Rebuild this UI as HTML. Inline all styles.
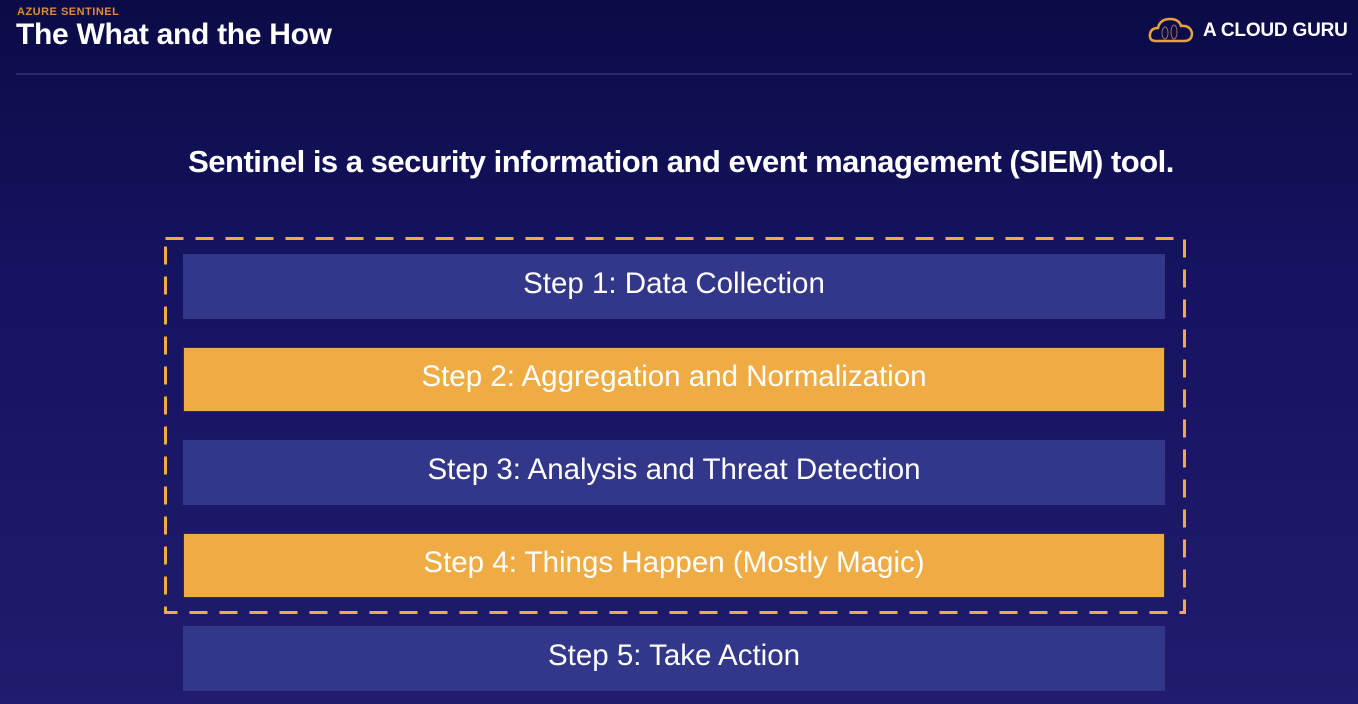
<!DOCTYPE html>
<html><head><style>
body{margin:0;width:1358px;height:704px;overflow:hidden;background:linear-gradient(180deg,#0b0b47 0%,#151461 40%,#211c6d 100%);font-family:"Liberation Sans",sans-serif;position:relative}
.a{position:absolute}
.bar{position:absolute;left:183px;width:982px;height:65px;color:#fff;font-size:29.5px;display:flex;align-items:center;justify-content:center;box-sizing:border-box;padding-bottom:6px}
.b{background:#33378a}
.o{background:#f0ac44;border:1px solid #3a2a40}
</style></head><body>
<div class="a" style="left:17px;top:6px;color:#e08a3c;font-size:11px;font-weight:bold;letter-spacing:0.5px">AZURE SENTINEL</div>
<div class="a" style="left:16px;top:18px;color:#fff;font-size:30px;font-weight:bold;letter-spacing:-0.3px">The What and the How</div>
<div class="a" style="left:16px;top:73px;width:1336px;height:2px;background:#262a6e"></div>
<svg class="a" style="left:1148px;top:15px" width="46" height="28" viewBox="0 0 46 28"><path d="M8 26 Q1 26 2 19 Q3 13 10 13 Q12 4 22 4 Q31 4 33 11 Q42 10 44 18 Q44 26 36 26 Z" fill="none" stroke="#e8a13c" stroke-width="2.5"/><ellipse cx="17" cy="18" rx="3" ry="6" fill="none" stroke="#a07050" stroke-width="1"/><ellipse cx="26" cy="17" rx="3" ry="7" fill="none" stroke="#a07050" stroke-width="1"/></svg>
<div class="a" style="left:1203px;top:20px;color:#fff;font-size:19px;font-weight:bold;letter-spacing:-0.2px">A CLOUD GURU</div>
<div class="a" style="left:0;width:1362px;top:144px;text-align:center;color:#fff;font-size:31px;font-weight:bold;letter-spacing:-0.5px">Sentinel is a security information and event management (SIEM) tool.</div>
<svg class="a" style="left:0;top:0" width="1358" height="704"><rect x="165.5" y="238.5" width="1019" height="374" fill="none" stroke="#f0ac44" stroke-width="3" stroke-dasharray="18 12"/></svg>
<div class="bar b" style="top:254px">Step 1: Data Collection</div>
<div class="bar o" style="top:347px">Step 2: Aggregation and Normalization</div>
<div class="bar b" style="top:440px">Step 3: Analysis and Threat Detection</div>
<div class="bar o" style="top:533px">Step 4: Things Happen (Mostly Magic)</div>
<div class="bar b" style="top:626px">Step 5: Take Action</div>
</body></html>
